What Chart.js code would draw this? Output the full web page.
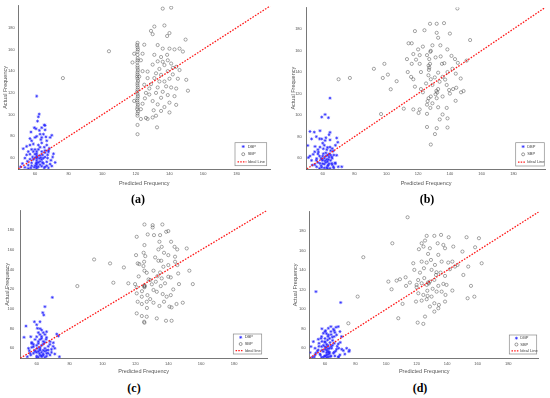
<!DOCTYPE html>
<html><head><meta charset="utf-8">
<script src="https://cdn.jsdelivr.net/npm/chart.js@4.4.1/dist/chart.umd.min.js"></script>
<style>
html,body{margin:0;padding:0;background:#fff;}
body{width:550px;height:398px;position:relative;overflow:hidden;}
canvas{position:absolute;}
.lab{position:absolute;font:bold 12px "Liberation Serif",serif;color:#000;transform:translate(-50%,-50%);white-space:nowrap;}
</style></head><body>
<canvas id="ca" width="275" height="190" style="left:0;top:0"></canvas>
<canvas id="cb" width="275" height="190" style="left:275px;top:0"></canvas>
<canvas id="cc" width="275" height="180" style="left:0;top:200px"></canvas>
<canvas id="cd" width="275" height="180" style="left:275px;top:200px"></canvas>
<div class="lab" style="left:138px;top:199px">(a)</div>
<div class="lab" style="left:427px;top:199px">(b)</div>
<div class="lab" style="left:134px;top:388px">(c)</div>
<div class="lab" style="left:420px;top:388px">(d)</div>
<script>
const axisRange = [50, 200];
const tickValues = [60, 80, 100, 120, 140, 160, 180];
const idealLine = [50, 200];
const xTitle = 'Predicted Frequency';
const yTitle = 'Actual Frequency';
const seriesNames = ['DBP', 'SBP'];
const idealNames = ['Ideal Line', 'Ideal Line', 'Ideal line', 'Ideal Line'];

const aDBP = [[61,117],[62.5,100.5],[62,98],[61.5,94],[60.6,87],[57.6,84],[65.5,90.5],[66,90],[59.6,88],[62.6,85.5],[65,82],[64,79],[69,79],[70,81],[67,76],[58,76],[59,73],[53,68.7],[55,70.8],[63,70],[66,67],[68,65.7],[71,64],[57,63.6],[60,63.6],[61.4,61],[62.6,59.7],[64,58.7],[59,58.7],[58,55.7],[60.6,55],[65,55],[67,56.6],[69,54.5],[56,53.6],[62,52],[66,52],[70,52.7],[51.4,52],[54,51.5],[61,66],[61,64],[61,62],[61,60],[61,58],[61,56],[61,54],[61,52],[61,50.5],[63,62.5],[64.5,63],[66,61],[67.5,60],[58.5,61],[57,59],[55.5,57],[60,68],[62,72],[64,74],[65.5,70],[67,72],[68.5,69],[66.5,79.5],[63.5,77],[60,79],[57,72],[56,66],[59,66],[63,54],[64,52.5],[65.5,51],[67,53],[68,51],[59.5,51.5],[57.5,51],[56,50.5],[63,57],[64.5,56],[62,56],[60,53],[58,53],[69.5,58],[70.5,61],[72,56],[54,60],[52.5,55],[55,63],[58,68],[62,68],[66,65],[67.5,63],[65,60],[63.5,60.5],[60,60.5],[68,67],[64,66],[57,78],[66,86],[64,88],[61,80],[63,82]];
const aSBP = [[121,99],[121,101],[121.3,103],[120.8,105],[121,107],[121.2,109],[121,111],[120.9,113],[121,115],[121.2,117],[121,119],[120.8,121],[121,123],[121.2,125],[121,127],[121,129],[121.3,131],[121,133],[120.8,135],[121,137],[121,139],[121.2,141],[121,143],[121,145],[120.9,148],[121,150],[121.1,152],[121,155],[121,158],[121.2,160],[121,162],[120.8,164],[121,166],[121,90.5],[121,82],
[136,197.5],[141,198.4],[131,181],[137,182],[129,177],[130,174],[138.6,172.3],[140,175],[125,164.3],[133,164],[124,156],[136,160.7],[140,160.7],[143,160],[146,160.7],[148,158],[149.6,169],[131,155],[135,153],[138.6,155],[133,149],[136,148.6],[139,150],[137,145.6],[141,147],[130,146],[127,139.6],[132,138],[135,136.6],[139,140],[142,143],[144,144],[145,133],[150,132],[140,133],[137,130.5],[134,130.5],[131,133.6],[127,133.6],[125,127.5],[128,124],[133,125],[138,126],[141,125],[144,124],[151,122],[125.4,115],[128,118.5],[132,120],[135,115.5],[139,118],[143,117],[130,112.5],[133,109.4],[137,107],[140,111],[144,109],[130.6,104],[135,103.4],[132,99],[130,97.4],[140,102],[126,97],[127,96],[123,96],[132.6,88.3],[104,158.3],[76.6,133.6],[119,112.6],[118,148],[119,156],[123,150],[124,140],[126,120],[124,110],[123,105],[122,135],[134,142],[129,128],[136,121],[142,137],[146,141]];

const bDBP = [[64.6,115.8],[61.5,100.6],[59.4,98.2],[63.6,97.6],[52,84.8],[54.7,84.2],[58.3,85.5],[64.6,84],[64,81.8],[53,77.9],[59.4,77.9],[61.5,76.4],[64.6,77],[68.8,78.8],[69.5,74.8],[50.6,71.8],[55.2,70.9],[58.3,70.3],[60.4,68.8],[62.6,67.9],[64.6,70.3],[66.7,66.7],[57.3,65.8],[54,63.6],[60.4,64.2],[63.2,62.7],[65.7,61.2],[68.8,62.7],[51,60.6],[56.2,59.7],[59.4,58.8],[61.5,57.6],[63.6,58.8],[58.3,55.2],[61,54.5],[63.6,53.6],[65.7,55.2],[67.8,55.8],[53.4,53.6],[56.2,52.1],[59.4,51.5],[62.5,51.2],[64.6,50.6],[66.7,52.1],[69.8,52.1],[72,52.1],
[62,56],[63,57],[61,60],[62,62],[64,64],[60,62],[59,60],[58,62],[57,56],[56,58],[60,55],[63,53],[65,58],[66,60],[67,63],[66,69],[68,72],[63,70],[61,72],[60,74],[58,78],[56,80],[62,79],[65,67],[57,64],[55,54],[61,51],[63,50.5],[64,55],[67,51],[68,55],[66,54],[59,53],[60,58],[62,65],[64,61],[65,63],[57,68],[55,66],[53,58],[52,62],[58,50.5],[62.5,59]];
const bSBP = [[144.7,199],[127.5,184.8],[131.7,184.8],[136.3,185.4],[124,178.8],[118,178],[131.7,176.4],[140,175.7],[132.6,171.8],[152.7,169.7],[114,166.7],[116,166.7],[129,164.8],[123,163.6],[134,164.8],[120,161],[128,159.7],[127.7,158.8],[138.4,161],[117,156.7],[121,155.7],[125.6,155.7],[127,152],[131,153.6],[134.2,154.5],[141,155],[143.2,152],[113,152],[116,147.6],[118.7,151.5],[121,147.6],[127.5,147.6],[135,147.6],[136.5,148.2],[145,148.5],[150.5,150.6],[92.2,143],[98.8,147.6],[70,133.3],[77.1,134.5],[101,137.6],[97.8,134.5],[106.5,131.5],[102.8,124],[96.7,101],[111,106],[113.5,140],[115.6,135.5],[117,133.3],[121.8,140],[126.6,146],[126.5,137],[128,133.3],[132.6,139.4],[135.4,135.5],[138.5,140],[141.6,143],[143.7,138.5],[146.8,134],[118,126.4],[121.8,124.2],[125,129.4],[129,128],[132.6,124.2],[138,128],[142,124.2],[144,125.4],[147,121.2],[148.6,122.4],[123,121.2],[126.6,115.7],[128,117.3],[131,119.4],[131.7,115.7],[135.4,117.3],[139.5,123.3],[143.6,113.3],[117,105.3],[121,105.3],[125.6,109.7],[127.7,106.7],[132.6,107.3],[138,106.7],[135.4,100.6],[125.6,101.2],[120.3,102],[133.6,96],[138.5,97],[125.6,89],[131.7,87.9],[138.5,88.5],[130.6,82.4],[128,72.7],[127,144],[126.8,142],[132,121],[131.5,122.5],[126,113],[129,111],[130.5,135],[133.5,131],[137,133],[140,120]];

const cDBP = [[69.5,111.7],[65,102.3],[63.7,96.2],[64.3,93.8],[58.6,87],[53.5,82.6],[62,87],[60.4,80.3],[63,78.6],[66,76.9],[72.2,74.5],[73.2,72.5],[52.3,71.2],[56.4,71.8],[60,71.8],[63,70.1],[65.7,69.1],[68.1,66.8],[70.1,65.7],[57,65],[61,65],[64,64.4],[58,61.7],[60.4,60],[62,59.3],[65,60],[67,58.3],[69,59],[55.5,57.6],[59,56.6],[61.6,54.9],[64,54.3],[66,54.9],[68.1,53.2],[71,54.3],[56.4,53.2],[60,52.2],[63,51.5],[65,50.9],[73.8,51.5],[54.3,51.5],
[62,58],[63,56],[61,57],[64,58],[62,61],[60,63],[63,63],[61,67],[62,69],[64,67],[63,72],[62,74],[61,76],[59,69],[58,64],[57,61],[59,58],[66,58],[67,62],[68,64],[66,71],[65,66],[63,52.5],[61,51],[60,56],[58,55],[64,53],[66,52],[62,53],[60,50.5],[65,57],[67,55],[69,56],[70,62],[71,60],[56,55],[55,60],[57,66],[64,76],[65,74],[62,80],[60,84]];
const cSBP = [[125.5,185.7],[130.5,185],[130.5,182.7],[136.4,185.7],[120.8,173.2],[127.5,175.6],[131.3,174.9],[135,174.9],[140,179],[138.7,178.3],[125.5,164.8],[134.6,168.2],[136,163],[141.7,168.2],[143.8,163],[145.4,160.4],[151.2,161.4],[137.4,157],[134,160.4],[120.4,154.6],[125,157],[126,153.6],[132,152.3],[140,154.6],[144.1,153],[121.4,146.2],[122.4,145.5],[125.3,147.9],[124.9,143.5],[134,148.9],[135.7,148.9],[140,144.5],[144.1,147.9],[145.5,144.5],[125.5,138.8],[126.9,136.7],[131,138.8],[133.4,133.3],[137,142.8],[140,132.7],[141.5,132],[146,136],[115.7,126],[119.8,125.2],[120.8,121.9],[125.5,123.2],[129,129.3],[132.4,127.6],[135.4,123.2],[138,126],[143,119.8],[146.5,125.2],[152.8,138.8],[154.9,125.2],[120.8,115.8],[123.9,112.4],[127.3,114],[131,119.2],[133,117.4],[136.6,115.1],[139,112.4],[141.5,114],[121.4,107.3],[123.9,105],[126.9,107.3],[131,106.3],[134.6,103],[137.4,107.3],[140.7,102.3],[142,101.6],[145,105],[148.8,106.3],[120.8,95.5],[123.9,92.8],[126.9,92.1],[133,90.4],[138.6,88],[142,88],[125.3,87],[125.5,86],[94.9,150.2],[104.6,146.2],[113,142.1],[106.6,126.6],[84.7,123.2],[125.5,123],[125.5,122],[125.5,124],[128,130],[130,125],[136,131],[124,118],[129,110],[135,137],[122,133],[127,101]];

const dDBP = [[54.1,118.1],[70.3,106.9],[62.2,80.5],[65.5,79.5],[67.2,81.5],[68.7,82.2],[60.4,78.1],[63.9,77.1],[58.9,75.4],[62.2,73.7],[67.6,73.7],[69.8,77.1],[70.9,72],[57.8,72],[55.6,69.2],[52.4,66.8],[50.8,61.7],[53.5,60],[56.1,65.1],[60,66.8],[63.3,65.8],[66.1,65.1],[68.7,64.4],[57.8,61.7],[61.1,61],[64.4,60],[67.6,59],[72,57.6],[74.2,60],[75.7,56.6],[58.9,56.6],[62.2,55.6],[65.5,54.9],[56.7,54.2],[53.5,53.2],[59.9,52.1],[63.3,51.4],[66.5,52.1],[69.8,53.2],[51.7,50.8],[57.8,50.8],[61.1,50.4],[68.7,50.8],[50.2,55.6],[55.6,58.3],[57.4,70.1],[61.7,68.5],[64.8,71.3],[66.5,76.1],[63.9,82.2],[66.1,78.1],
[61,58],[62,57],[60,59],[63,60],[62,63],[61,64],[60,66],[59,63],[58,58],[64,62],[65,63],[63,56],[61,53],[60,52],[59,51],[62,51],[64,52],[66,56],[67,57],[68,62],[69,60],[70,66],[65,68],[63,70],[62,72],[61,75],[64,74],[66,72],[60,70],[58,67],[56,62],[55,57],[54,55],[57,53],[53,51],[58,80],[60,77],[62,53.5],[63,54.5],[61,55.5],[60,61.5],[62,59.5],[71,59],[73,54],[76,58],[69,51.5]];
const dSBP = [[114.1,194.4],[104.1,167.7],[85.1,153.4],[123.3,167.7],[126.6,175.3],[131.6,175.3],[136,176.3],[141,173.9],[152.7,173.9],[160.8,172.9],[150,159.2],[158.3,163.6],[162.6,147.2],[125.5,170.5],[124.5,164.3],[121.5,161.6],[128.7,162.6],[133.8,167.7],[137.5,166],[138.6,162.6],[144,164.3],[127.5,156.8],[134.2,155.8],[117.8,147.2],[123.3,148.9],[126.6,147.9],[129.4,150.6],[132,145.5],[136.4,148.9],[140.7,147.9],[143.4,148.9],[146.8,145.5],[153.8,143.8],[150.6,135.2],[118.5,140.4],[122.2,137.6],[124.8,142.1],[129.8,140.4],[132.7,135.2],[135.7,137.6],[138.6,134.2],[141.8,141.1],[145.1,143.8],[109.1,130.8],[112.8,132.8],[106.9,129.4],[101.5,128.4],[115.6,127.4],[120,125],[123.3,126.7],[126.6,125],[128.7,128.4],[131.6,130.1],[134.2,124],[137.5,126],[139.6,125],[120,122.6],[103.6,120.5],[113.1,124],[121.1,116.4],[124.4,114.7],[127.2,113.7],[129.8,113],[133.1,118.1],[136.4,118.1],[138.9,114.7],[143.4,119.2],[155.6,124],[153.4,111.3],[157.8,112.9],[119.6,107.9],[123.3,108.9],[126.6,110.3],[131.6,106.2],[134.6,104.5],[138.6,107.9],[110.8,105.5],[81.4,113],[131.6,97.6],[134.2,101],[128.7,102.8],[125.5,92.5],[120.7,86.3],[124.4,85],[108,90.8],[75.3,85.6],[127.5,127.5],[128,126.5],[130.5,121],[125,132],[133,138],[127,119],[121,130]];

const family = '"Liberation Sans", Arial, sans-serif';
const toPts = arr => arr.map(p => ({x: p[0], y: p[1]}));

const boxLegend = {
  id: 'boxLegend',
  afterDatasetsDraw(chart, args, o) {
    const ctx = chart.ctx, ca = chart.chartArea;
    const x1 = ca.right - o.r, y1 = ca.bottom - o.b;
    const x0 = x1 - o.w, y0 = y1 - o.h;
    ctx.save();
    ctx.fillStyle = '#fff';
    ctx.fillRect(x0, y0, o.w, o.h);
    ctx.strokeStyle = '#8a8a8a';
    ctx.lineWidth = 0.7;
    ctx.strokeRect(x0, y0, o.w, o.h);
    const rowH = o.h / 3;
    ctx.font = '4px ' + family;
    ctx.textBaseline = 'middle';
    o.labels.forEach((t, i) => {
      const cy = y0 + rowH * (i + 0.5);
      const mx = x0 + o.w * 0.26;
      if (i === 0) {
        ctx.strokeStyle = 'rgba(40,40,255,0.9)';
        ctx.fillStyle = 'rgba(40,40,255,0.9)';
        Chart.helpers.drawPoint(ctx, {pointStyle: 'star', radius: 1.5, borderWidth: 0.7, rotation: 0}, mx, cy);
      } else if (i === 1) {
        ctx.strokeStyle = 'rgba(70,70,70,0.9)';
        ctx.lineWidth = 0.6;
        ctx.beginPath(); ctx.arc(mx, cy, 1.5, 0, Math.PI * 2); ctx.stroke();
      } else {
        ctx.strokeStyle = '#ff1a1a';
        ctx.lineWidth = 1.2;
        ctx.setLineDash([1.5, 1.2]);
        ctx.beginPath(); ctx.moveTo(x0 + o.w * 0.08, cy); ctx.lineTo(x0 + o.w * 0.36, cy); ctx.stroke();
        ctx.setLineDash([]);
      }
      ctx.fillStyle = '#444';
      ctx.fillText(t, x0 + o.w * 0.40, cy);
    });
    ctx.restore();
  }
};

function makeChart(id, dbp, sbp, idealName, g) {
  const setTicks = ax => { ax.ticks = tickValues.map(v => ({value: v})); };
  new Chart(document.getElementById(id), {
    type: 'scatter',
    data: {
      datasets: [
        {label: 'Ideal', type: 'line', order: 0,
         data: [{x: idealLine[0], y: idealLine[0]}, {x: idealLine[1], y: idealLine[1]}],
         borderColor: '#ff1a1a', borderWidth: 1.3, borderDash: [1.6, 1.4], pointRadius: 0, fill: false},
        {label: seriesNames[0], order: 1, data: toPts(dbp), pointStyle: 'star', pointRadius: 1.6,
         borderColor: 'rgba(40,40,255,0.85)', backgroundColor: 'rgba(40,40,255,0.85)', borderWidth: 0.7},
        {label: seriesNames[1], order: 2, data: toPts(sbp), pointStyle: 'circle', pointRadius: 1.6,
         borderColor: 'rgba(70,70,70,0.8)', backgroundColor: 'rgba(255,255,255,0)', borderWidth: 0.6}
      ]
    },
    options: {
      responsive: false, animation: false, devicePixelRatio: 1,
      layout: {padding: {left: 0, right: g.padR, top: g.padT, bottom: 0}},
      plugins: {legend: {display: false}, tooltip: {enabled: false},
        boxLegend: Object.assign({labels: [seriesNames[0], seriesNames[1], idealName]}, g.leg)},
      scales: {
        x: {type: 'linear', min: axisRange[0], max: axisRange[1], afterBuildTicks: setTicks,
            afterFit: s => { s.height = g.xH; },
            grid: {display: false, drawTicks: false}, border: {display: true, color: '#555', width: 0.8},
            ticks: {font: {size: 4, family}, color: '#555', padding: g.xTickPad, maxRotation: 0, autoSkip: false},
            title: {display: true, text: xTitle, font: {size: 5.5, family}, color: '#555', padding: {top: 0, bottom: g.xTitlePadB}}},
        y: {type: 'linear', min: axisRange[0], max: axisRange[1], afterBuildTicks: setTicks,
            afterFit: s => { s.width = g.yW; },
            grid: {display: false, drawTicks: false}, border: {display: true, color: '#555', width: 0.8},
            ticks: {font: {size: 4, family}, color: '#555', padding: g.yTickPad, autoSkip: false},
            title: {display: true, text: yTitle, font: {size: 5.5, family}, color: '#555', padding: {top: g.yTitlePadT, bottom: 0}}}
      }
    },
    plugins: [boxLegend]
  });
}

makeChart('ca', aDBP, aSBP, idealNames[0], {padT: 3.2, padR: 4.7, yW: 18.2, xH: 21, yTickPad: 3.5, xTickPad: 2, xTitlePadB: 3.7, yTitlePadT: 2.5, leg: {r: 3.6, b: 3.3, w: 31.7, h: 23}});
makeChart('cb', bDBP, bSBP, idealNames[1], {padT: 3.7, padR: 4.7, yW: 31.8, xH: 21, yTickPad: 5, xTickPad: 2, xTitlePadB: 3.4, yTitlePadT: 15, leg: {r: 1, b: 3, w: 28.6, h: 23.3}});
makeChart('cc', cDBP, cSBP, idealNames[2], {padT: 10.4, padR: 8, yW: 20.25, xH: 21.8, yTickPad: 6, xTickPad: 3, xTitlePadB: 5, yTitlePadT: 3.8, leg: {r: 5.3, b: 4.2, w: 28.4, h: 20}});
makeChart('cd', dDBP, dSBP, idealNames[3], {padT: 11.8, padR: 11.2, yW: 34.7, xH: 22, yTickPad: 4, xTickPad: 3, xTitlePadB: 5.7, yTitlePadT: 17.5, leg: {r: 2.1, b: 4, w: 27.4, h: 19}});
</script>
</body></html>
